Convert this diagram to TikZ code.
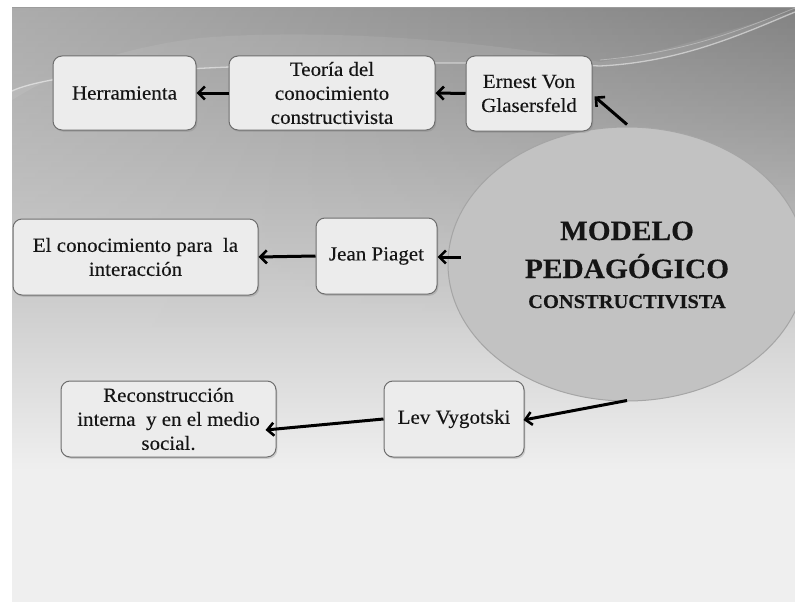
\documentclass[tikz,border=0pt]{standalone}
\usepackage{fontspec}
\setmainfont{Liberation Serif}[FakeStretch=1.05, FakeBold=0.25]
\usetikzlibrary{arrows.meta,calc,shadows,fadings,shapes.geometric}
\definecolor{bgtop}{HTML}{9C9C9C}
\definecolor{bgmid}{HTML}{CDCDCD}
\definecolor{bgbot}{HTML}{EFEFEF}
\definecolor{boxfill}{HTML}{ECECEC}
\definecolor{boxline}{HTML}{6E6E6E}
\definecolor{ellfill}{HTML}{C2C2C2}
\definecolor{ellline}{HTML}{A5A5A5}
\definecolor{ink}{HTML}{151515}
\begin{document}
\begin{tikzpicture}[x=1pt,y=-1pt,
  box/.style={draw=boxline, line width=1pt, fill=boxfill, rounded corners=9pt,
    align=center, inner sep=0pt, text=ink,
    font=\fontsize{20}{24}\selectfont,
    drop shadow={shadow xshift=1.3pt, shadow yshift=-1.8pt, opacity=0.3}},
  arr/.style={-{Straight Barb[length=6.5pt,width=13pt,line width=2.6pt]}, line width=3pt, black},
  bigtxt/.style={anchor=base, text=ink, inner sep=0pt}]
\useasboundingbox (0,0) rectangle (795,602);
% background
\fill[white] (0,0) rectangle (795,602);
\begin{scope}
\clip (12,8) rectangle (795,602);
\shade[top color=bgtop, bottom color=bgmid] (12,8) rectangle (795,300.5);
\shade[top color=bgmid, bottom color=bgbot] (12,300) rectangle (795,470.5);
\fill[bgbot] (12,470) rectangle (795,602);
\shade[left color=white, right color=black, opacity=0.16, path fading=south] (12,8) rectangle (795,330);
% decorative swooshes
\fill[white, opacity=0.08] (12,100) .. controls (60,70) and (120,48) .. (200,38)
  .. controls (320,28) and (480,40) .. (600,62)
  .. controls (680,50) and (740,25) .. (795,12)
  .. controls (740,35) and (680,62) .. (600,66)
  .. controls (460,60) and (200,62) .. (52,80)
  .. controls (35,83) and (20,87) .. (12,91) -- cycle;
\draw[white, opacity=0.5, line width=1.3pt] (12,91) .. controls (20,87) and (35,83) .. (52,80)
  .. controls (200,62) and (460,60) .. (600,66)
  .. controls (680,62) and (740,35) .. (795,12);
\draw[white, opacity=0.3, line width=0.8pt] (600,60) .. controls (690,52) and (745,28) .. (795,8);
% central ellipse
\node[ellipse, draw=ellline, line width=1pt, fill=ellfill, minimum width=358pt, minimum height=274pt, inner sep=0pt] (m) at (627,264) {};
\end{scope}
\node[bigtxt, font=\fontsize{28}{30}\selectfont\bfseries] (t1) at (627,240) {MODELO};
\node[bigtxt, font=\fontsize{28}{30}\selectfont\bfseries] (t2) at (627,278) {PEDAGÓGICO};
\node[bigtxt, font=\fontsize{19.5}{22}\selectfont\bfseries] (t3) at (627,308) {CONSTRUCTIVISTA};
% boxes
\node[box, minimum width=143pt, minimum height=74pt] (herr) at (124.5,93) {Herramienta};
\node[box, minimum width=206pt, minimum height=74pt] (teo) at (332,93) {Teoría del\\conocimiento\\constructivista};
\node[box, minimum width=126pt, minimum height=75pt] (ern) at (529,93.5) {Ernest Von\\Glasersfeld};
\node[box, minimum width=245pt, minimum height=76pt] (con) at (135.5,257) {El conocimiento para~ la\\interacción};
\node[box, minimum width=121pt, minimum height=76pt] (pia) at (376.5,256) {Jean Piaget};
\node[box, minimum width=215pt, minimum height=76pt] (rec) at (168.5,419) {Reconstrucción\\interna~ y en el medio\\social.};
\node[box, minimum width=140pt, minimum height=76pt] (lev) at (454,419) {Lev Vygotski};
% connectors
\draw[arr] (ern.west) -- (teo.east);
\draw[arr] (teo.west) -- (herr.east);
\draw[arr] ($(m.north)+(0,-2)$) -- ($(ern.east)+(2,3)$);
\draw[arr] ($(m.west)+(13,-7)$) -- ($(pia.east)+(0,1)$);
\draw[arr] (pia.west) -- (con.east);
\draw[arr] ($(m.south)+(0,-1)$) -- ($(lev.east)+(-1,1)$);
\draw[arr] (lev.west) -- ($(rec.east)+(-11,11)$);
\end{tikzpicture}
\end{document}
